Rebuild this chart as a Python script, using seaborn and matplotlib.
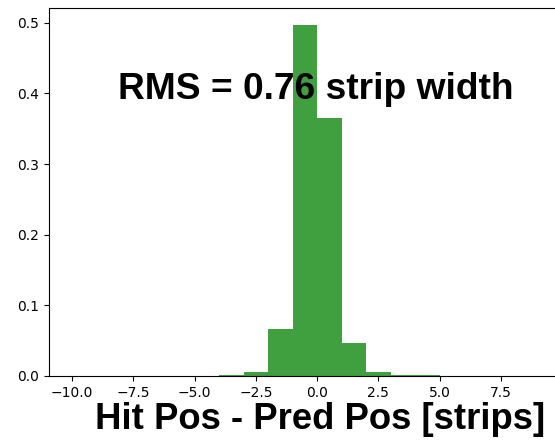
import numpy as np
import pandas as pd
import matplotlib
matplotlib.use("Agg")
import matplotlib.pyplot as plt
import seaborn as sns

# bins are 1 strip wide; normalised heights
bin_left = [-4, -3, -2, -1, 0, 1, 2, 3, 4]
bin_height = [0.002, 0.006, 0.0665, 0.4965, 0.365, 0.047, 0.006, 0.002, 0.001]
rms = 0.76

df = pd.DataFrame({"resid": np.array(bin_left) + 0.5, "frac": bin_height})

fig = plt.figure(figsize=(5.55, 4.41), dpi=100)
ax = fig.add_axes([0.0877, 0.1474, 0.923, 0.8345])

sns.histplot(data=df, x="resid", weights="frac", binwidth=1, binrange=(-10, 9),
             color="g", alpha=0.75, linewidth=0, ax=ax)
ax.set_xlim(-10.95, 9.95)
ax.set_ylim(0, 0.521)
ax.set_ylabel("")

ax.text(-8.13, 0.392, f"RMS = {rms} strip width", fontsize=26.7, fontweight="bold",
        family="Liberation Sans")
ax.set_xlabel("Hit Pos - Pred Pos [strips]", fontsize=26.3, fontweight="bold",
              family="Liberation Sans")
ax.xaxis.set_label_coords(0.5296, -0.072)

fig.savefig("out.png", dpi=100)
